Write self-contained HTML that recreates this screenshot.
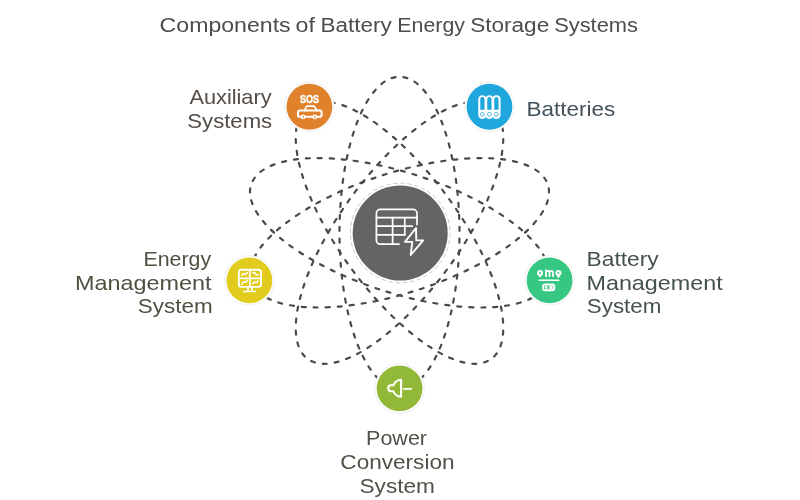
<!DOCTYPE html>
<html>
<head>
<meta charset="utf-8">
<title>Components of Battery Energy Storage Systems</title>
<style>
  html, body { margin: 0; padding: 0; background: #ffffff; }
  body { width: 800px; height: 500px; overflow: hidden; position: relative; }
  svg { position: absolute; left: 0; top: 0; display: block; will-change: transform; }
  text { font-family: "Liberation Sans", sans-serif; }
  .orb { fill: none; stroke: #4a4a4a; stroke-width: 2.2; stroke-dasharray: 4 8; stroke-linecap: round; }
</style>
</head>
<body>
<svg width="800" height="500" viewBox="0 0 800 500">
  <rect x="0" y="0" width="800" height="500" fill="#ffffff"/>

  <!-- orbits -->
  <g transform="translate(399.5 232.8)">
    <ellipse class="orb" rx="156" ry="60" pathLength="712" transform="rotate(90)"/>
    <ellipse class="orb" rx="156" ry="60" pathLength="712" transform="rotate(18)"/>
    <ellipse class="orb" rx="156" ry="60" pathLength="712" transform="rotate(162)"/>
    <ellipse class="orb" rx="156" ry="60" pathLength="712" transform="rotate(-126)"/>
    <ellipse class="orb" rx="156" ry="60" pathLength="712" transform="rotate(-54)"/>
  </g>

  <!-- centre -->
  <circle cx="400.2" cy="233" r="51.2" fill="#ffffff"/>
  <circle cx="400.2" cy="233" r="49.8" fill="none" stroke="#a4a4a4" stroke-width="0.6" stroke-dasharray="4.5 2.6"/>
  <circle cx="400.2" cy="233" r="47.5" fill="#646464"/>
  <g id="i-centre" fill="none" stroke="#ffffff" stroke-width="1.7" stroke-linecap="round" stroke-linejoin="round">
    <!-- table outline (cut near the bolt) -->
    <path d="M417 224.6 V213.4 a4 4 0 0 0 -4 -4 H380.4 a4 4 0 0 0 -4 4 V240.2 a4 4 0 0 0 4 4 H399"/>
    <path d="M376.4 217.6 H417"/>
    <path d="M376.4 226.2 H412.2"/>
    <path d="M376.4 234.9 H404.8"/>
    <path d="M392.6 217.6 V244.2"/>
    <path d="M404.8 217.6 V234.9"/>
    <!-- bolt -->
    <path d="M416 228 L405 241.9 H412.3 L410.7 255 L423.2 240.4 H416.3 Z" stroke-width="1.9"/>
  </g>

  <!-- nodes -->
  <g id="n-aux">
    <circle cx="309.4" cy="106.75" r="24.8" fill="#ffffff" stroke="#e9ebf0" stroke-width="0.8"/>
    <circle cx="309.4" cy="106.75" r="22.9" fill="#e0822c"/>
    <text x="309.5" y="102.7" font-size="10.7" style="font-weight:700" text-anchor="middle" fill="#ffffff" stroke="#ffffff" stroke-width="0.45" textLength="19" lengthAdjust="spacingAndGlyphs">SOS</text>
    <g fill="none" stroke="#ffffff" stroke-width="1.7" stroke-linecap="round" stroke-linejoin="round">
      <!-- car -->
      <path d="M301.2 116.8 H299.8 a1.8 1.8 0 0 1 -1.8 -1.8 V112.6 a2.1 2.1 0 0 1 2.1 -2.1 H319.5 a2.1 2.1 0 0 1 2.1 2.1 V115 a1.8 1.8 0 0 1 -1.8 1.8 H316.9" stroke-width="2.1"/>
      <path d="M305.3 116.8 H312.7" stroke-width="2.1"/>
      <path d="M304.4 110.5 L306.2 107.1 a1.7 1.7 0 0 1 1.5 -0.9 H313.3 a1.7 1.7 0 0 1 1.5 0.8 L316.8 110.5"/>
      <circle cx="303.2" cy="116.9" r="1.6" stroke-width="1.5"/>
      <circle cx="314.8" cy="116.9" r="1.6" stroke-width="1.5"/>
    </g>
  </g>
  <g id="n-bat">
    <circle cx="489.5" cy="106.75" r="24.8" fill="#ffffff" stroke="#efe9e9" stroke-width="0.8"/>
    <circle cx="489.5" cy="106.75" r="22.9" fill="#1fa6dd"/>
    <g fill="#ffffff">
      <path d="M478.25 99.45 a4.15 4.15 0 0 1 8.30 0 V114.75 a4.15 4.15 0 0 1 -8.30 0 Z"/>
      <path d="M485.25 99.45 a4.15 4.15 0 0 1 8.30 0 V114.75 a4.15 4.15 0 0 1 -8.30 0 Z"/>
      <path d="M492.25 99.45 a4.15 4.15 0 0 1 8.30 0 V114.75 a4.15 4.15 0 0 1 -8.30 0 Z"/>
    </g>
    <g fill="#1fa6dd">
      <path d="M480.25 99.15 a2.15 2.15 0 0 1 4.30 0 V109.7 H480.25 Z"/>
      <path d="M487.25 99.15 a2.15 2.15 0 0 1 4.30 0 V109.7 H487.25 Z"/>
      <path d="M494.25 99.15 a2.15 2.15 0 0 1 4.30 0 V109.7 H494.25 Z"/>
    </g>
    <g fill="none" stroke="#1fa6dd" stroke-width="0.75">
      <circle cx="482.40" cy="114.3" r="1.95"/>
      <circle cx="489.40" cy="114.3" r="1.95"/>
      <circle cx="496.40" cy="114.3" r="1.95"/>
    </g>
  </g>
  <g id="n-ems">
    <circle cx="249.4" cy="280.4" r="24.8" fill="#ffffff" stroke="#e9eaf0" stroke-width="0.8"/>
    <circle cx="249.4" cy="280.4" r="22.9" fill="#e1cc1d"/>
    <g fill="none" stroke="#ffffff" stroke-width="1.9" stroke-linecap="round" stroke-linejoin="round">
      <rect x="238.8" y="269.7" width="22.2" height="17.2" rx="2.6"/>
      <path d="M249.9 269.7 V286.9" stroke-width="1.7"/>
      <path d="M238.8 278.3 H261" stroke-width="1.7"/>
      <path d="M247.9 287.6 V291.2 M251.9 287.6 V291.2" stroke-width="1.6" stroke-linecap="butt"/>
      <path d="M243.6 291.6 H255.6" stroke-width="1.5"/>
      <g stroke-width="1.6">
        <path d="M241.9 275.2 q1.2 -2.2 2.6 -1.2 t2.7 -1.4"/>
        <path d="M252.9 272.8 q1.4 -0.6 2.5 1 t2.7 0.8"/>
        <path d="M241.9 284 q1 -2.6 2.6 -2 t2.7 -1.6"/>
        <path d="M252.9 283.6 q1.2 -2.2 2.5 -1.4 t2.7 -1.2"/>
      </g>
    </g>
  </g>
  <g id="n-bms">
    <circle cx="549.6" cy="280.4" r="24.8" fill="#ffffff" stroke="#f0e9e9" stroke-width="0.8"/>
    <circle cx="549.6" cy="280.4" r="22.9" fill="#36c783"/>
    <g fill="none" stroke="#ffffff" stroke-width="2" stroke-linecap="round" stroke-linejoin="round">
      <circle cx="540.1" cy="273" r="2"/>
      <path d="M539.2 275.6 L540.1 276.6 L541 275.6" stroke-width="1.4"/>
      <path d="M546 276.2 V270.2 M546 272.6 a1.7 1.7 0 0 1 3.5 0 V276.2 M549.5 272.6 a1.7 1.7 0 0 1 3.5 0 V276.2" stroke-width="1.8"/>
      <circle cx="558.4" cy="273" r="2"/>
      <path d="M557.5 275.8 L558.4 277.2 L559.3 275.8" stroke-width="1.4"/>
      <path d="M539.2 280.3 H558.8" stroke-width="1.5"/>
      <rect x="543.2" y="284.4" width="11" height="5.8" rx="1.7" stroke-width="2"/>
    </g>
    <path d="M549.4 285.4 H552.6 V289.2 H549.4 Z" fill="#ffffff"/>
    <path d="M547 285.6 L544.9 287.3 L547 289 Z" fill="#ffffff" stroke="#ffffff" stroke-width="0.7" stroke-linejoin="round"/>
  </g>
  <g id="n-pcs">
    <circle cx="399.6" cy="388.4" r="24.8" fill="#ffffff" stroke="#e9e9f0" stroke-width="0.8"/>
    <circle cx="399.6" cy="388.4" r="22.9" fill="#91b937"/>
    <g fill="none" stroke="#ffffff" stroke-width="2.1" stroke-linecap="round" stroke-linejoin="round">
      <path d="M401.1 379.8 V396.7 C397.4 396.5 394.8 394.6 393.4 391.3 H391.2 a3 3 0 0 1 0 -6 H393.4 C394.8 382 397.4 380 401.1 379.8 Z"/>
      <path d="M403.8 388.8 H411.2" stroke-width="1.8"/>
    </g>
  </g>

  <!-- title -->
  <g id="g-title" font-size="20" fill="#4c4c4c">
    <text id="t-w1" x="159.58" y="31.7" textLength="131.09" lengthAdjust="spacingAndGlyphs">Components</text>
    <text id="t-w2" x="295.53" y="31.7" textLength="19.32" lengthAdjust="spacingAndGlyphs">of</text>
    <text id="t-w3" x="320.54" y="31.7" textLength="71.19" lengthAdjust="spacingAndGlyphs">Battery</text>
    <text id="t-w4" x="397.29" y="31.7" textLength="67.72" lengthAdjust="spacingAndGlyphs">Energy</text>
    <text id="t-w5" x="470.15" y="31.7" textLength="79.06" lengthAdjust="spacingAndGlyphs">Storage</text>
    <text id="t-w6" x="554.2" y="31.7" textLength="83.8" lengthAdjust="spacingAndGlyphs">Systems</text>
  </g>
  <g id="g-aux" font-size="20.3" fill="#544c46">
    <text id="t-aux1" x="189.42" y="104.2" textLength="82.18" lengthAdjust="spacingAndGlyphs">Auxiliary</text>
    <text id="t-aux2" x="187.32" y="127.7" textLength="84.84" lengthAdjust="spacingAndGlyphs">Systems</text>
  </g>
  <g id="g-bat" font-size="20.3" fill="#42515a">
    <text id="t-bat" x="526.59" y="115.9" textLength="88.59" lengthAdjust="spacingAndGlyphs">Batteries</text>
  </g>
  <g id="g-ems" font-size="20.3" fill="#515040">
    <text id="t-ems1" x="143.51" y="265.7" textLength="67.68" lengthAdjust="spacingAndGlyphs">Energy</text>
    <text id="t-ems2" x="75.01" y="289.5" textLength="136.52" lengthAdjust="spacingAndGlyphs">Management</text>
    <text id="t-ems3" x="137.84" y="313.2" textLength="74.8" lengthAdjust="spacingAndGlyphs">System</text>
  </g>
  <g id="g-bms" font-size="20.3" fill="#44524c">
    <text id="t-bms1" x="586.59" y="265.7" textLength="72.04" lengthAdjust="spacingAndGlyphs">Battery</text>
    <text id="t-bms2" x="586.45" y="289.5" textLength="136.33" lengthAdjust="spacingAndGlyphs">Management</text>
    <text id="t-bms3" x="586.88" y="313.2" textLength="74.47" lengthAdjust="spacingAndGlyphs">System</text>
  </g>
  <g id="g-pcs" font-size="20.3" fill="#505247">
    <text id="t-pcs1" x="366.07" y="445.2" textLength="60.95" lengthAdjust="spacingAndGlyphs">Power</text>
    <text id="t-pcs2" x="340.33" y="468.8" textLength="114.21" lengthAdjust="spacingAndGlyphs">Conversion</text>
    <text id="t-pcs3" x="359.47" y="492.6" textLength="75.51" lengthAdjust="spacingAndGlyphs">System</text>
  </g>
</svg>
</body>
</html>
